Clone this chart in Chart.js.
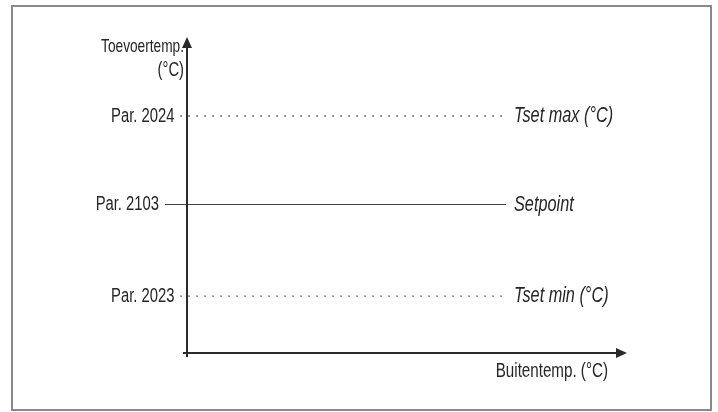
<!DOCTYPE html>
<html>
<head>
<meta charset="utf-8">
<script src="https://cdn.jsdelivr.net/npm/chart.js@4/dist/chart.umd.min.js"></script>
<style>
  html, body { margin: 0; padding: 0; background: #fff; }
  #wrap { width: 718px; height: 412px; position: relative; }
</style>
</head>
<body>
<div id="wrap"><canvas id="grafiek" width="718" height="412"></canvas></div>
<script>
// gegevens
var niveauNamen = ['Tset max (°C)', 'Setpoint', 'Tset min (°C)'];
var parLabels = ['Par. 2024', 'Par. 2103', 'Par. 2023'];
var niveauWaarden = [75, 47, 18];
var lijnVan = [-1.5, -5, -1.5];
var lijnTot = [72.5, 72.5, 72.5];
var gestippeld = [true, false, true];
var yAsTitel = ['Toevoertemp.', '(°C)'];
var xAsTitel = 'Buitentemp. (°C)';

var lettertype = "'Liberation Sans', Arial, sans-serif";

// datasets opbouwen
var datasets = [];
for (var i = 0; i < niveauWaarden.length; i++) {
  datasets.push({
    label: niveauNamen[i],
    data: [{ x: lijnVan[i], y: niveauWaarden[i] }, { x: lijnTot[i], y: niveauWaarden[i] }],
    borderColor: gestippeld[i] ? '#3a3a3a' : '#444',
    borderWidth: gestippeld[i] ? 1.4 : 1.2,
    borderDash: gestippeld[i] ? [1.4, 6.6] : [],
    pointRadius: 0,
    fill: false
  });
}

// smalle tekst (condensed), horizontaal geschaald
function tekst(c, t, x, y, uitlijning, font) {
  c.save();
  c.font = font;
  c.textAlign = uitlijning;
  c.textBaseline = 'middle';
  c.translate(x, y);
  c.scale(0.74, 1);
  c.fillText(t, 0, 0);
  c.restore();
}

// assen, pijlen, teksten en rand
var tekenPlugin = {
  id: 'tekenPlugin',
  beforeDraw: function(chart) {
    var c = chart.ctx;
    c.save();
    c.fillStyle = '#fff';
    c.fillRect(0, 0, chart.width, chart.height);
    c.strokeStyle = '#8a8a8a';
    c.lineWidth = 2;
    c.strokeRect(12, 6, 699, 404);
    c.restore();
  },
  afterDatasetsDraw: function(chart) {
    var c = chart.ctx;
    var xs = chart.scales.x, ys = chart.scales.y;
    var x0 = xs.getPixelForValue(0), y0 = ys.getPixelForValue(0);
    var xEind = xs.getPixelForValue(100), yEind = ys.getPixelForValue(100);
    c.save();
    c.strokeStyle = '#2a2a2a';
    c.fillStyle = '#2a2a2a';
    c.lineWidth = 2;
    // y-as
    c.beginPath();
    c.moveTo(x0, y0 + 4);
    c.lineTo(x0, yEind + 8);
    c.stroke();
    c.beginPath();
    c.moveTo(x0, yEind);
    c.lineTo(x0 - 5, yEind + 11);
    c.lineTo(x0 + 5, yEind + 11);
    c.closePath();
    c.fill();
    // x-as
    c.beginPath();
    c.moveTo(x0 - 4, y0);
    c.lineTo(xEind - 8, y0);
    c.stroke();
    c.beginPath();
    c.moveTo(xEind, y0);
    c.lineTo(xEind - 11, y0 - 5);
    c.lineTo(xEind - 11, y0 + 5);
    c.closePath();
    c.fill();

    // labels
    c.fillStyle = '#262626';
    for (var i = 0; i < niveauWaarden.length; i++) {
      var y = ys.getPixelForValue(niveauWaarden[i]);
      tekst(c, parLabels[i], xs.getPixelForValue(lijnVan[i]) - 6, y, 'right', '20px ' + lettertype);
      tekst(c, niveauNamen[i], xs.getPixelForValue(lijnTot[i]) + 8, y, 'left', 'italic 22px ' + lettertype);
    }
    tekst(c, yAsTitel[0], x0 - 3, yEind + 10, 'right', '18.5px ' + lettertype);
    tekst(c, yAsTitel[1], x0 - 3, yEind + 33, 'right', '20px ' + lettertype);
    tekst(c, xAsTitel, xEind - 19, y0 + 18, 'right', '20.5px ' + lettertype);
    c.restore();
  }
};

var ctx = document.getElementById('grafiek').getContext('2d');
var grafiek = new Chart(ctx, {
  type: 'line',
  data: { datasets: datasets },
  options: {
    responsive: false,
    animation: false,
    layout: { padding: { left: 143, right: 91, top: 37, bottom: 59 } },
    plugins: { legend: { display: false }, tooltip: { enabled: false } },
    scales: {
      x: { type: 'linear', min: -10, max: 100, display: false },
      y: { type: 'linear', min: 0, max: 100, display: false }
    }
  },
  plugins: [tekenPlugin]
});
</script>
</body>
</html>
